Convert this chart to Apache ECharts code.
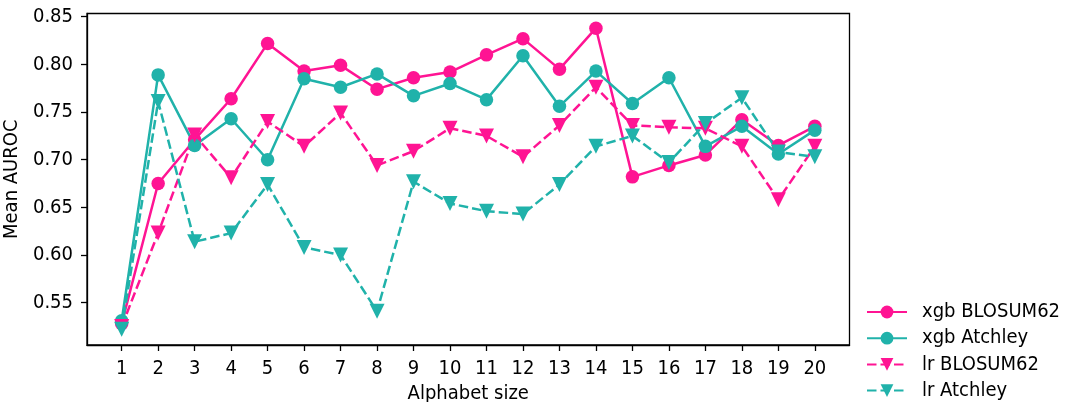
<!DOCTYPE html>
<html><head><meta charset="utf-8">
<script src="https://cdn.jsdelivr.net/npm/echarts@6/dist/echarts.min.js"></script>
<style>html,body{margin:0;padding:0;background:#fff}#c{width:1065px;height:402px}</style>
</head><body><div id="c"></div>
<script>
const categories = [1,2,3,4,5,6,7,8,9,10,11,12,13,14,15,16,17,18,19,20];
const xgbBlosum = [0.528,0.675,0.721,0.764,0.822,0.793,0.799,0.774,0.786,0.792,0.810,0.827,0.795,0.838,0.682,0.694,0.705,0.742,0.715,0.735];
const xgbAtchley = [0.531,0.789,0.715,0.743,0.700,0.785,0.776,0.790,0.767,0.780,0.763,0.809,0.756,0.793,0.759,0.786,0.714,0.735,0.706,0.731];
const lrBlosum = [0.525,0.623,0.726,0.681,0.740,0.714,0.749,0.694,0.709,0.733,0.725,0.703,0.736,0.776,0.736,0.734,0.733,0.714,0.658,0.714];
const lrAtchley = [0.522,0.761,0.614,0.623,0.674,0.608,0.600,0.541,0.677,0.654,0.646,0.643,0.674,0.714,0.725,0.697,0.738,0.765,0.708,0.703];
const yTicks = [0.55,0.60,0.65,0.70,0.75,0.80,0.85];
const seriesNames = ['xgb BLOSUM62','xgb Atchley','lr BLOSUM62','lr Atchley'];

const PINK = '#ff1493', TEAL = '#20b2aa';
const FONT = '"DejaVu Sans Condensed", "DejaVu Sans", sans-serif';
const FS = 20;
function pairs(arr){ return categories.map((c,i)=>[c, arr[i]]); }
function mk(name, arr, color, dashed){
  return {
    name, type:'line', data: pairs(arr),
    symbol: dashed ? 'triangle' : 'circle',
    symbolRotate: dashed ? 180 : 0,
    symbolSize: dashed ? 15 : 13.5,
    itemStyle:{color: color, borderWidth:0},
    lineStyle:{color: color, width:2.5, type: dashed ? [9.5,4] : 'solid'},
    emphasis:{disabled:true}, animation:false
  };
}
const chart = echarts.init(document.getElementById('c'), null, {renderer:'canvas'});
chart.setOption({
  animation:false,
  grid:{left:87, right:215.5, top:13.5, bottom:57, show:true, borderColor:'#000', borderWidth:1.3,
        backgroundColor:'transparent', containLabel:false, outerBoundsMode:'none'},
  legend:{
    orient:'vertical', left:866, top:302, padding:0,
    itemWidth:40, itemHeight:16, itemGap:6.2,
    textStyle:{fontFamily:FONT, fontSize:FS, color:'#000', padding:[0,0,0,10]},
    data: seriesNames
  },
  xAxis:{
    type:'value', min:0.05, max:20.95,
    name:'Alphabet size', nameLocation:'middle', nameGap:37,
    nameTextStyle:{fontFamily:FONT, fontSize:FS, color:'#000'},
    axisLine:{show:true, lineStyle:{color:'#000', width:1.3}},
    axisTick:{show:true, inside:false, length:6, lineStyle:{color:'#000', width:1.3}, customValues: categories},
    axisLabel:{fontFamily:FONT, fontSize:FS, color:'#000', margin:14, customValues: categories, formatter: v => String(v)},
    splitLine:{show:false}
  },
  yAxis:{
    type:'value', min:0.5056, max:0.8534,
    name:'Mean AUROC', nameLocation:'middle', nameGap:53,
    nameTextStyle:{fontFamily:FONT, fontSize:FS, color:'#000'},
    axisLine:{show:true, lineStyle:{color:'#000', width:1.3}},
    axisTick:{show:true, inside:false, length:6, lineStyle:{color:'#000', width:1.3}, customValues: yTicks},
    axisLabel:{fontFamily:FONT, fontSize:FS, color:'#000', margin:14, customValues: yTicks, formatter: v => v.toFixed(2)},
    splitLine:{show:false}
  },
  series:[
    mk(seriesNames[0], xgbBlosum, PINK, false),
    mk(seriesNames[1], xgbAtchley, TEAL, false),
    mk(seriesNames[2], lrBlosum, PINK, true),
    mk(seriesNames[3], lrAtchley, TEAL, true)
  ]
});
</script></body></html>
